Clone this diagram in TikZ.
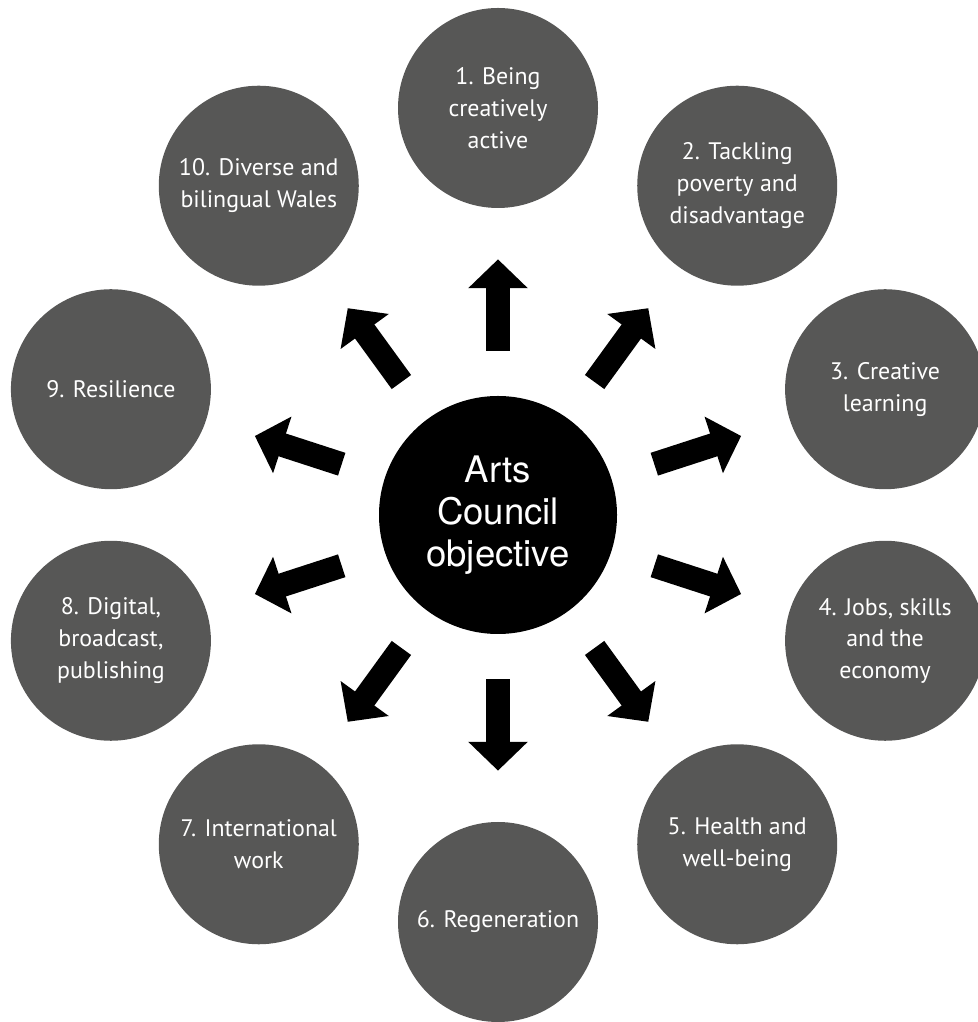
\documentclass[tikz,border=0pt]{standalone}
\usepackage{fontspec}
\setmainfont{PT Sans}
\newfontfamily\helv{TeX Gyre Heros}
\usepackage{tikz}
\usetikzlibrary{arrows.meta}
\definecolor{discgray}{RGB}{87,87,86}
\tikzstyle{goal}=[circle, fill=discgray, text=white, minimum size=4cm, inner sep=0pt, align=center, font=\fontsize{13.6}{18.1}\selectfont]
\tikzstyle{hub}=[circle, fill=black, text=white, minimum size=4.76cm, inner sep=0pt, align=center, font=\helv\fontsize{20.8}{24}\selectfont]
\tikzstyle{fatarrow}=[draw=black, line width=13.6pt, -{Triangle[width=32.9pt,length=16.4pt]}, shorten <=0.9cm, shorten >=1.02cm]

\begin{document}
\begin{tikzpicture}
		   \useasboundingbox (0,0) rectangle (19.54,20.44);
		   \begin{scope}[shift={(9.96,10.14)}]
			   \node (hub) at (0, 0)[hub] {Arts\\Council\\objective};
			   \node (active) at (90:8.14)[goal] {1. Being\\creatively\\active};
			   \node (poverty) at (54:8.14)[goal] {2. Tackling\\poverty and\\disadvantage};
			   \node (learning) at (18:8.14)[goal] {3. Creative\\learning};
			   \node (jobs) at (-18:8.14)[goal] {4. Jobs, skills\\and the\\economy};
			   \node (health) at (-54:8.14)[goal] {5. Health and\\well-being};
			   \node (regen) at (-90:8.14)[goal] {6. Regeneration};
			   \node (intl) at (-126:8.14)[goal] {7. International\\work};
			   \node (digital) at (-162:8.14)[goal] {8. Digital,\\broadcast,\\publishing};
			   \node (resil) at (162:8.14)[goal] {9. Resilience};
			   \node (diverse) at (126:8.14)[goal] {10. Diverse and\\bilingual Wales};
		   \end{scope}
		   \begin{scope}
			   \path [fatarrow] (hub) -- (active);
			   \path [fatarrow] (hub) -- (poverty);
			   \path [fatarrow] (hub) -- (learning);
			   \path [fatarrow] (hub) -- (jobs);
			   \path [fatarrow] (hub) -- (health);
			   \path [fatarrow] (hub) -- (regen);
			   \path [fatarrow] (hub) -- (intl);
			   \path [fatarrow] (hub) -- (digital);
			   \path [fatarrow] (hub) -- (resil);
			   \path [fatarrow] (hub) -- (diverse);
		   \end{scope}
	   \end{tikzpicture}
\end{document}
